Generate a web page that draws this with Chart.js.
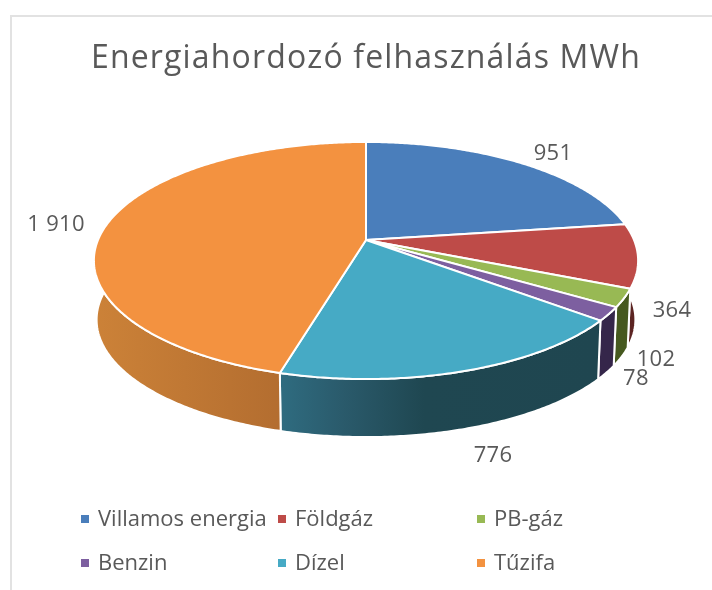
<!DOCTYPE html>
<html>
<head>
<meta charset="utf-8">
<style>
html,body{margin:0;padding:0;background:#fff;}
canvas{display:block;filter:blur(0.45px);}
</style>
<script src="https://cdn.jsdelivr.net/npm/chart.js@4"></script>
</head>
<body>
<canvas id="c" width="712" height="590"></canvas>
<script>
const chartTitle = 'Energiahordozó felhasználás MWh';
const categories = ['Villamos energia', 'Földgáz', 'PB-gáz', 'Benzin', 'Dízel', 'Tűzifa'];
const values = [951, 364, 102, 78, 776, 1910];
const valueLabels = ['951', '364', '102', '78', '776', '1 910'];

const topColors = ['#4a7ebb', '#be4b48', '#98b954', '#7d5fa0', '#46aac5', '#f39240'];
const wallStops = [
  [[0, '#2c4a70'], [1, '#2c4a70']],
  [[0, '#5c2422'], [1, '#5c2422']],
  [[0, '#46591f'], [1, '#46591f']],
  [[0, '#35264a'], [1, '#35264a']],
  [[0, '#2f6c80'], [0.2, '#2a5a6b'], [0.45, '#1f4751'], [1, '#1f4650']],
  [[0, '#cc8238'], [1, '#a8642c']]
];
const labelAnchors = [[553, 153.5], [672, 310.5], [656, 359.5], [636, 378.5], [493, 455.5], [56, 224.5]];
const legendCols = [81, 278, 477];
const legendRows = [526, 570];

const TILT = 115 / 268, PERSPECTIVE = 0.173, DEPTH = 59.4, BASE_SCALE = 0.99;

function project(arc, a, base) {
  const r = arc.outerRadius;
  const w = 1 - PERSPECTIVE * Math.sin(a);
  let dx = r * Math.cos(a) / w, dy = r * TILT * Math.sin(a) / w;
  if (base) { dx *= BASE_SCALE; dy = dy * BASE_SCALE + DEPTH; }
  return [arc.x + dx, arc.y + dy];
}
function samples(arc) {
  const n = Math.max(2, Math.ceil((arc.endAngle - arc.startAngle) / 0.01));
  const out = [];
  for (let i = 0; i <= n; i++) out.push(arc.startAngle + (arc.endAngle - arc.startAngle) * i / n);
  return out;
}

const pie3d = {
  id: 'pie3d',
  beforeDraw(chart) {
    const ctx = chart.ctx;
    ctx.save();
    ctx.strokeStyle = '#e2e2e2';
    ctx.lineWidth = 2;
    ctx.beginPath();
    ctx.moveTo(11, 590); ctx.lineTo(11, 16); ctx.lineTo(712, 16);
    ctx.stroke();
    ctx.restore();
    ctx.letterSpacing = '1.15px';
  },
  beforeDatasetDraw(chart) {
    const ctx = chart.ctx;
    const arcs = chart.getDatasetMeta(0).data;
    ctx.save();
    ctx.lineJoin = 'round';
    ctx.strokeStyle = '#ffffff';
    ctx.lineWidth = 2;
    // side walls
    arcs.forEach((arc, i) => {
      const angles = samples(arc);
      const top = angles.map(a => project(arc, a, false));
      const bottom = angles.map(a => project(arc, a, true));
      const xs = top.concat(bottom).map(p => p[0]);
      const g = ctx.createLinearGradient(Math.min(...xs), 0, Math.max(...xs), 0);
      wallStops[i].forEach(s => g.addColorStop(s[0], s[1]));
      ctx.fillStyle = g;
      ctx.beginPath();
      top.forEach((p, j) => j ? ctx.lineTo(p[0], p[1]) : ctx.moveTo(p[0], p[1]));
      bottom.reverse().forEach(p => ctx.lineTo(p[0], p[1]));
      ctx.closePath();
      ctx.fill();
      ctx.stroke();
    });
    // top faces
    arcs.forEach((arc, i) => {
      ctx.fillStyle = topColors[i];
      ctx.beginPath();
      ctx.moveTo(arc.x, arc.y);
      samples(arc).forEach(a => { const p = project(arc, a, false); ctx.lineTo(p[0], p[1]); });
      ctx.closePath();
      ctx.fill();
      ctx.stroke();
    });
    ctx.restore();
    return false;
  },
  afterDraw(chart) {
    const ctx = chart.ctx;
    ctx.save();
    ctx.letterSpacing = '0.3px';
    ctx.fillStyle = '#595959';
    ctx.font = '22px "Open Sans"';
    ctx.textAlign = 'center';
    ctx.textBaseline = 'middle';
    valueLabels.forEach((t, i) => ctx.fillText(t, labelAnchors[i][0], labelAnchors[i][1]));
    ctx.letterSpacing = '0px';
    ctx.textAlign = 'left';
    ctx.textBaseline = 'alphabetic';
    categories.forEach((name, i) => {
      const col = legendCols[i % 3], base = legendRows[Math.floor(i / 3)];
      ctx.fillStyle = topColors[i];
      ctx.fillRect(col, base - 11, 8, 8);
      ctx.fillStyle = '#595959';
      ctx.fillText(name, col + 17, base);
    });
    ctx.restore();
  }
};

new Chart(document.getElementById('c'), {
  type: 'pie',
  data: {
    labels: categories,
    datasets: [{ data: values, backgroundColor: topColors, borderWidth: 0, radius: 268 }]
  },
  options: {
    responsive: false,
    animation: false,
    layout: { padding: { left: 20, bottom: 188.4 } },
    plugins: {
      legend: { display: false },
      tooltip: { enabled: false },
      title: {
        display: true,
        text: chartTitle,
        color: '#595959',
        font: { family: '"Open Sans"', size: 32, weight: 'normal', lineHeight: 1.2 },
        padding: { top: 40, bottom: 0 }
      }
    }
  },
  plugins: [pie3d]
});
</script>
</body>
</html>
